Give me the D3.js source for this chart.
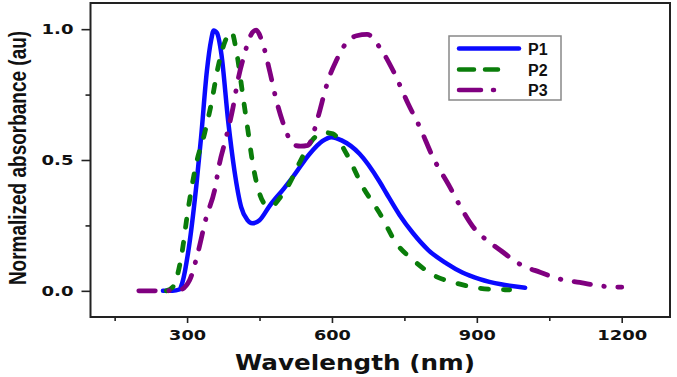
<!DOCTYPE html>
<html><head><meta charset="utf-8">
<script src="https://cdn.jsdelivr.net/npm/d3@7"></script>
<style>body{margin:0;background:#fff}svg{display:block}</style>
</head><body><svg id="c" width="677" height="377"></svg>
<script>
const seriesNames = ["P1","P2","P3"];
const p1Wavelength = [250,270,284,290,302,319,329,341,350,355,362,371,385,398,412,425,435,450,471,500,519,554,580,599,620,657,699,713,740,768,800,837,870,906,950,1000];
const p1Abs = [0,0,0.005,0.03,0.145,0.40,0.587,0.84,0.96,0.995,0.985,0.905,0.65,0.46,0.32,0.27,0.258,0.27,0.325,0.39,0.435,0.524,0.572,0.587,0.575,0.524,0.416,0.372,0.29,0.22,0.155,0.105,0.07,0.045,0.025,0.012];
const p2Wavelength = [257,271,288,302,319,336,350,364,378,392,402,416,426,436,450,462,474,492,512,533,561,585,602,630,664,699,734,768,809,858,906,940,968];
const p2Abs = [0,0.016,0.13,0.31,0.486,0.60,0.714,0.854,0.95,0.99,0.917,0.74,0.613,0.486,0.372,0.33,0.322,0.355,0.41,0.49,0.58,0.605,0.60,0.524,0.397,0.296,0.18,0.118,0.061,0.029,0.01,0.005,0.004];
const p3Wavelength = [200,250,284,305,322,340,357,367,381,395,405,419,430,443,457,471,485,502,512,520,535,550,558,566,575,585,595,609,623,651,673,699,727,758,782,809,844,868,892,920,948,989,1031,1072,1113,1155,1200];
const p3Abs = [0,0,0.003,0.04,0.143,0.283,0.384,0.486,0.587,0.70,0.803,0.905,0.97,0.996,0.943,0.84,0.727,0.625,0.58,0.558,0.553,0.556,0.58,0.63,0.69,0.76,0.82,0.88,0.93,0.975,0.98,0.93,0.84,0.714,0.625,0.511,0.397,0.315,0.245,0.194,0.156,0.102,0.071,0.045,0.032,0.019,0.014];
const xTicks = [300,600,900,1200];
const xMinorTicks = [150,450,750,1050];
const yTicks = [0,0.5,1.0];
const yMinorTicks = [0.25,0.75];
const xDomain = [100,1300];
const yDomain = [-0.1,1.1];

const colors = ["#0a0aff","#0a7d0a","#800080"];
const dashes = [null,"8,15","16.5,13.5,0.5,13.5"];
const legendDashes = [null,"15,11","22,12,4,100"];

const svg = d3.select("#c");
const L=90.5, R=670, T=3, B=317;
const x = d3.scaleLinear().domain(xDomain).range([L,R]);
const y = d3.scaleLinear().domain(yDomain).range([B,T]);

const data = [
  p1Wavelength.map((w,i)=>[w,p1Abs[i]]),
  p2Wavelength.map((w,i)=>[w,p2Abs[i]]),
  p3Wavelength.map((w,i)=>[w,p3Abs[i]])
];
const line = d3.line().x(d=>x(d[0])).y(d=>y(d[1])).curve(d3.curveMonotoneX);

[0,1,2].forEach(i=>{
  svg.append("path").attr("d",line(data[i])).attr("fill","none")
    .attr("stroke",colors[i]).attr("stroke-width",i===0?4.5:4.8)
    .attr("stroke-linecap","round").attr("stroke-linejoin","round")
    .attr("stroke-dasharray",dashes[i]);
});

const tickFont = "'DejaVu Sans', Verdana, sans-serif";
const xAxis = svg.append("g").attr("transform",`translate(0,${B})`)
  .call(d3.axisBottom(x).tickValues(xTicks).tickSize(6).tickPadding(7).tickFormat(d3.format("d")));
const xAxisMinor = svg.append("g").attr("transform",`translate(0,${B})`)
  .call(d3.axisBottom(x).tickValues(xMinorTicks).tickSize(4).tickFormat(""));
const yAxis = svg.append("g").attr("transform",`translate(${L},0)`)
  .call(d3.axisLeft(y).tickValues(yTicks).tickSize(9).tickPadding(8).tickFormat(d3.format(".1f")));
const yAxisMinor = svg.append("g").attr("transform",`translate(${L},0)`)
  .call(d3.axisLeft(y).tickValues(yMinorTicks).tickSize(5).tickFormat(""));
[xAxis,xAxisMinor,yAxis,yAxisMinor].forEach(g=>{
  g.select(".domain").remove();
  g.selectAll(".tick line").attr("stroke","#222").attr("stroke-width",1.6);
  g.selectAll("text").attr("font-family",tickFont).attr("font-weight","bold")
   .attr("font-size",14.5).attr("fill","#111")
   .attr("lengthAdjust","spacingAndGlyphs")
   .attr("textLength",function(){ return this.textContent.length===4?50:(g===yAxis?32:37); });
});
svg.append("rect").attr("x",L).attr("y",T).attr("width",R-L).attr("height",B-T)
  .attr("fill","none").attr("stroke","#222").attr("stroke-width",2);

svg.append("text").attr("x",355).attr("y",370).attr("text-anchor","middle")
  .attr("font-family",tickFont).attr("font-weight","bold").attr("font-size",21)
  .attr("textLength",240).attr("lengthAdjust","spacingAndGlyphs").attr("fill","#111")
  .text("Wavelength (nm)");
svg.append("text").attr("transform","translate(26,158) rotate(-90) scale(1,1.3)").attr("text-anchor","middle")
  .attr("font-family","'Liberation Sans',Arial,sans-serif")
  .attr("font-weight","bold").attr("font-size",19)
  .attr("fill","#111")
  .text("Normalized absorbance (au)");

const lg = svg.append("g");
lg.append("rect").attr("x",449).attr("y",36).attr("width",112).attr("height",64)
  .attr("fill","#fff").attr("stroke","#888").attr("stroke-width",1.5);
const legendY = [48.5,69.5,90];
seriesNames.forEach((n,i)=>{
  lg.append("line").attr("x1",459).attr("x2",i===0?519:(i===1?498:494))
    .attr("y1",legendY[i]).attr("y2",legendY[i])
    .attr("stroke",colors[i]).attr("stroke-width",4.5).attr("stroke-linecap","round")
    .attr("stroke-dasharray",legendDashes[i]);
  lg.append("text").attr("x",528).attr("y",legendY[i]+6).attr("font-family","'Liberation Sans',Arial,sans-serif")
    .attr("font-weight","bold").attr("font-size",16).attr("fill","#111").text(n);
});
</script></body></html>
